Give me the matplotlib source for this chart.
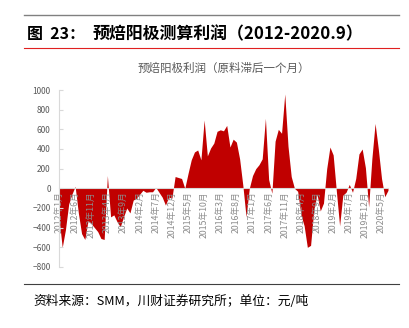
import matplotlib
matplotlib.use("Agg")
import matplotlib.pyplot as plt
import numpy as np

plt.rcParams["font.family"] = ["Noto Sans CJK SC", "DejaVu Sans"]

# monthly profit, 2012-01 onwards (yuan/ton)
profit = [
    -300, -600, -420, -160, -60, 20, -250, -460, -520, -330, -360, -400,
    -440, -510, -520, 130, -290, -270, -340, -390, -290, -200, -250, -120,
    -100, -60, -20, -40, -35, -35, 10, -40, -90, -170, -90, -100,
    120, 110, 100, 0, 150, 290, 370, 390, 290, 695, 330, 410,
    460, 580, 595, 585, 640, 420, 500, 470, 300, 30, -290, 0,
    130, 200, 240, 300, 712, 90, -50, 480, 600, 560, 960, 430,
    120, 0, -30, -270, -380, -600, -580, -220, -60, -230, -150, 200,
    420, 340, -30, -380, -70, -40, 40, -40, 100, 350, 400, 210,
    -190, 300, 660, 400, 100, -85, -20,
]
tick_pos = list(range(0, 101, 5))
tick_labels = [
    "2012年1月", "2012年6月", "2012年11月", "2013年4月", "2013年9月",
    "2014年2月", "2014年7月", "2014年12月", "2015年5月", "2015年10月",
    "2016年3月", "2016年8月", "2017年1月", "2017年6月", "2017年11月",
    "2018年4月", "2018年9月", "2019年2月", "2019年7月", "2019年12月",
    "2020年5月",
]

x = np.arange(len(profit))
y = np.array(profit)

fig = plt.figure(figsize=(4.1, 3.28), dpi=100)
ax = fig.add_axes([0.1439, 0.186, 0.8024, 0.5396])

ax.fill_between(x, 0, y, color="#C00000", linewidth=0, interpolate=True)

ax.set_xlim(0, len(profit) - 1)
ax.set_ylim(-800, 1000)
ax.set_yticks(range(-800, 1001, 200))

for s in ["top", "right"]:
    ax.spines[s].set_visible(False)
ax.spines["left"].set_color("#D9D9D9")
ax.spines["bottom"].set_color("#D9D9D9")
ax.spines["bottom"].set_position(("data", 0))
ax.spines["left"].set_linewidth(0.8)
ax.spines["bottom"].set_linewidth(0.8)

ax.set_xticks(tick_pos, tick_labels, rotation=90)
ax.tick_params(axis="x", length=0, pad=2, labelsize=6.3, labelcolor="#8C8C8C")
ax.tick_params(axis="y", direction="in", length=3, color="#D9D9D9",
               labelsize=6, labelcolor="#595959", pad=6)

ax.set_title("预焙阳极利润（原料滞后一个月）", fontsize=8.3, color="#595959", pad=13)

# header / footer decorations
fig.add_artist(plt.Line2D([24 / 410, 399 / 410], [1 - 15 / 328] * 2,
                          color="#808080", linewidth=1))
fig.add_artist(plt.Line2D([24 / 410, 399 / 410], [1 - 48 / 328] * 2,
                          color="#E02020", linewidth=0.8))
fig.add_artist(plt.Line2D([24 / 410, 399 / 410], [1 - 284 / 328] * 2,
                          color="#404040", linewidth=0.8))
fig.text(27 / 410, 1 - 34 / 328, "图  23：", fontsize=11.5, fontweight="bold",
         va="center", ha="left")
fig.text(93 / 410, 1 - 34 / 328, "预焙阳极测算利润（2012-2020.9）", fontsize=12.2,
         fontweight="bold", va="center", ha="left")
fig.text(33 / 410, 1 - 301 / 328, "资料来源：SMM，川财证券研究所；单位：元/吨",
         fontsize=9.2, style="italic", va="center", ha="left")

fig.savefig("out.png", dpi=100)
